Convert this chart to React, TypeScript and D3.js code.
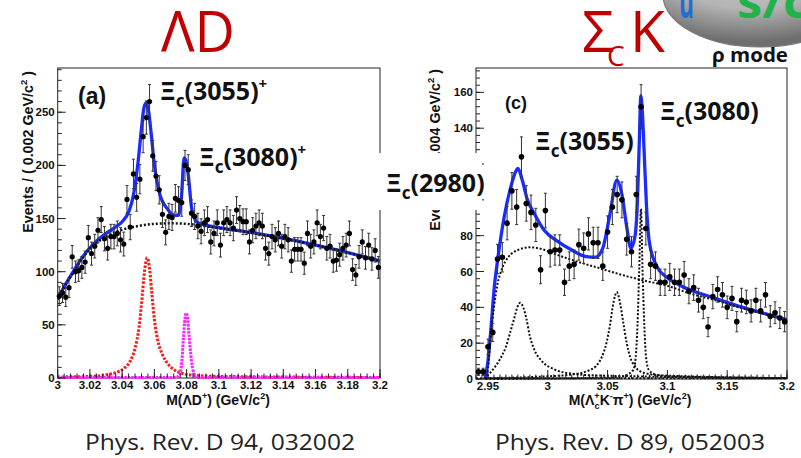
import React from 'react';
import * as d3 from 'd3';

type Pt = [number, number];

// ---------- Left panel (a): M(ΛD+) ----------
const leftBinLo = 3.0;
const leftBinW = 0.002;
const leftCounts = [
  77, 80, 76, 85, 114, 100, 101, 104, 109, 132, 117, 124, 139, 149,
  131, 122, 133, 133, 136, 130, 126, 168, 142,
  192, 170, 187, 227, 245, 260, 209, 190, 177,
  154, 137, 152, 151, 169, 167, 165, 200, 196,
  155, 152, 143,
  138, 146, 149, 128, 136, 146, 125, 146, 149, 146, 141, 158, 150, 147, 147,
  128, 139, 143, 146, 143, 122, 117, 133, 130, 136, 124, 133, 130, 110, 121,
  121, 121, 108, 136, 124, 128, 146, 133, 141, 122, 124, 110, 111, 116, 122,
  125, 136, 102, 97, 114, 128, 113, 125, 112, 120, 104,
];
const leftTotal: Pt[] = [
  [3.0, 74.5], [3.005, 88.5], [3.01, 101], [3.015, 113], [3.02, 122.5], [3.025, 130],
  [3.03, 136], [3.035, 141], [3.04, 147], [3.044, 156], [3.047, 172], [3.05, 205],
  [3.052, 235], [3.0535, 254], [3.055, 259], [3.0565, 250], [3.058, 230], [3.06, 200],
  [3.0635, 172], [3.0676, 160], [3.0718, 153.5], [3.0749, 153], [3.0769, 172],
  [3.0784, 207], [3.0795, 205], [3.0811, 190], [3.0831, 160], [3.0862, 147],
  [3.09, 144.5], [3.1, 141.5], [3.12, 137], [3.14, 131.5], [3.16, 125], [3.18, 118], [3.2, 110],
];
const leftBkg: Pt[] = [
  [3.0, 74], [3.005, 88], [3.01, 100], [3.015, 112], [3.02, 121], [3.025, 128], [3.03, 133],
  [3.035, 137], [3.04, 139.5], [3.05, 143], [3.06, 145], [3.07, 145.5], [3.08, 145],
  [3.09, 143], [3.1, 141], [3.12, 136.5], [3.14, 131], [3.16, 125], [3.18, 118], [3.2, 110],
];
const left3055: Pt[] = [
  [3.0, 1], [3.02, 1.5], [3.03, 3], [3.036, 5], [3.041, 9], [3.045, 16], [3.048, 28],
  [3.0505, 48], [3.0525, 78], [3.054, 102], [3.0555, 113], [3.057, 103], [3.0585, 78],
  [3.06, 55], [3.062, 36], [3.065, 22], [3.068, 14], [3.072, 8], [3.077, 4.5], [3.085, 2.5],
  [3.1, 1.5], [3.2, 0.5],
];
const left3080: Pt[] = [
  [3.0, 0.5], [3.073, 0.5], [3.0755, 3], [3.077, 15], [3.078, 37], [3.079, 56], [3.0797, 61],
  [3.0805, 57], [3.0815, 40], [3.083, 16], [3.0845, 4], [3.086, 0.5], [3.2, 0.5],
];
const leftXTicks = [3, 3.02, 3.04, 3.06, 3.08, 3.1, 3.12, 3.14, 3.16, 3.18, 3.2];
const leftXLabels = ['3', '3.02', '3.04', '3.06', '3.08', '3.1', '3.12', '3.14', '3.16', '3.18', '3.2'];
const leftYTicks = [0, 50, 100, 150, 200, 250];

// ---------- Right panel (c): M(Λc+ K- π+) ----------
const rightBinLo = 2.94;
const rightBinW = 0.004;
const rightCounts = [
  4, 4, 18, 26, 67, 68, 87, 105, 96, 124, 98, 93, 86, 61, 94, 71, 72, 72, 54, 63,
  64, 75, 73, 81, 76, 76, 63, 82, 96, 103, 100, 78, 71, 103, 152, 84, 64, 63, 54, 54,
  57, 54, 54, 58, 49, 51, 44, 40, 29, 46, 50, 47, 40, 45, 32, 44, 43, 38, 44, 38,
  47, 35, 37, 34, 32,
];
const rightTotal: Pt[] = [
  [2.9475, 0], [2.95, 10], [2.9526, 29], [2.9554, 52], [2.958, 66], [2.9637, 91],
  [2.969, 107], [2.9733, 116], [2.975, 117.5], [2.9787, 111], [2.983, 100], [2.989, 92],
  [2.997, 83], [3.008, 77], [3.02, 72], [3.031, 68.5], [3.04, 68], [3.046, 73], [3.052, 92],
  [3.0577, 111], [3.062, 103], [3.066, 85], [3.0695, 73], [3.073, 80], [3.075, 100],
  [3.0765, 132], [3.0778, 158], [3.079, 150], [3.0805, 128], [3.0825, 97], [3.085, 76],
  [3.091, 63], [3.099, 57], [3.11, 52.5], [3.14, 45], [3.16, 40.5], [3.18, 36.8], [3.2, 33],
];
const rightBkg: Pt[] = [
  [2.9475, 0], [2.95, 6], [2.952, 22], [2.955, 40], [2.958, 53], [2.962, 62], [2.967, 68],
  [2.975, 72], [2.985, 73.5], [2.995, 72.5], [3.005, 70], [3.02, 66.5], [3.04, 62.5],
  [3.06, 58.5], [3.08, 55], [3.1, 52], [3.12, 47.5], [3.14, 44], [3.16, 40], [3.18, 36.5], [3.2, 33],
];
const right2980: Pt[] = [
  [2.9475, 0], [2.95, 2], [2.955, 6], [2.96, 11], [2.965, 18], [2.969, 27], [2.972, 34],
  [2.9745, 40], [2.977, 42.5], [2.9795, 40], [2.982, 34], [2.985, 24], [2.989, 16],
  [2.995, 10], [3.005, 5.5], [3.02, 3], [3.04, 2], [3.2, 0.5],
];
const right3055: Pt[] = [
  [2.948, 0.5], [3.0, 1.5], [3.02, 2.5], [3.035, 5], [3.04, 7], [3.045, 12], [3.049, 20],
  [3.052, 30], [3.055, 43], [3.0577, 48.5], [3.06, 44], [3.063, 32], [3.066, 20], [3.069, 12],
  [3.073, 7], [3.08, 3.5], [3.095, 2], [3.2, 0.5],
];
const right3080: Pt[] = [
  [2.948, 0], [3.06, 1], [3.0715, 5], [3.0735, 12], [3.075, 30], [3.0765, 62], [3.0779, 95],
  [3.0792, 62], [3.0807, 30], [3.0822, 12], [3.0845, 5], [3.09, 2.5], [3.1, 1.5], [3.2, 0.5],
];
const rightXTicks = [2.95, 3.0, 3.05, 3.1, 3.15, 3.2];
const rightXLabels = ['2.95', '3', '3.05', '3.1', '3.15', '3.2'];
const rightYTicks = [0, 20, 40, 60, 80, 100, 120, 140, 160];

const ROOTFONT = '"Liberation Sans", Arial, Helvetica, sans-serif';

type Curve = { pts: Pt[]; color: string; width: number; dash?: string };

type PanelProps = {
  id: string;
  px: [number, number];
  py: [number, number];
  xd: [number, number];
  yd: [number, number];
  counts: number[];
  binLo: number;
  binW: number;
  curves: Curve[];
  xTicks: number[];
  xLabels: string[];
  xMinor: number;
  yTicks: number[];
  yMinor: number;
  dotR: number;
};

function Panel(p: PanelProps) {
  const x = d3.scaleLinear().domain(p.xd).range(p.px);
  const y = d3.scaleLinear().domain(p.yd).range(p.py);
  const line = d3
    .line<Pt>()
    .x((d) => x(d[0]))
    .y((d) => y(d[1]))
    .curve(d3.curveMonotoneX);
  const xMinorTicks = d3.range(p.xd[0], p.xd[1] + 1e-9, p.xMinor);
  const yMinorTicks = d3.range(p.yd[0], p.yd[1] + 1e-9, p.yMinor);
  const [L, R] = p.px;
  const [B, T] = p.py;
  return (
    <g>
      <defs>
        <clipPath id={p.id}>
          <rect x={L} y={T} width={R - L} height={B - T + 1} />
        </clipPath>
      </defs>
      <rect x={L} y={T} width={R - L} height={B - T} fill="white" stroke="#222" strokeWidth={1} />
      <g clipPath={`url(#${p.id})`}>
        {p.curves.map((c, i) => (
          <path
            key={i}
            d={line(c.pts) || ''}
            fill="none"
            stroke={c.color}
            strokeWidth={c.width}
            strokeDasharray={c.dash}
          />
        ))}
      </g>
      <g>
        {p.counts.map((n, i) => {
          const xc = p.binLo + p.binW * (i + 0.5);
          const e = Math.sqrt(n);
          const cx = x(xc);
          return (
            <g key={i}>
              <line x1={cx} x2={cx} y1={y(Math.min(n + e, p.yd[1]))} y2={y(Math.max(n - e, 0))} stroke="#333" strokeWidth={1} />
              <line x1={cx - 1.5} x2={cx + 1.5} y1={y(n + e)} y2={y(n + e)} stroke="#333" strokeWidth={1} />
              <line x1={cx - 1.5} x2={cx + 1.5} y1={y(Math.max(n - e, 0))} y2={y(Math.max(n - e, 0))} stroke="#333" strokeWidth={1} />
              <circle cx={cx} cy={y(n)} r={p.dotR} fill="#000" />
            </g>
          );
        })}
      </g>
      {xMinorTicks.map((t, i) => (
        <line key={'xm' + i} x1={x(t)} x2={x(t)} y1={B} y2={B - 4.5} stroke="#222" strokeWidth={1} />
      ))}
      {p.xTicks.map((t, i) => (
        <g key={'xt' + i}>
          <line x1={x(t)} x2={x(t)} y1={B} y2={B - 9} stroke="#222" strokeWidth={1} />
          <text
            x={x(t)}
            y={B + 11}
            textAnchor="middle"
            fontFamily={ROOTFONT}
            fontWeight={700}
            fontSize={11.5}
            fill="#111"
          >
            {p.xLabels[i]}
          </text>
        </g>
      ))}
      {yMinorTicks.map((t, i) => (
        <line key={'ym' + i} x1={L} x2={L + 4} y1={y(t)} y2={y(t)} stroke="#222" strokeWidth={1} />
      ))}
      {p.yTicks.map((t, i) => (
        <g key={'yt' + i}>
          <line x1={L} x2={L + 8} y1={y(t)} y2={y(t)} stroke="#222" strokeWidth={1} />
          <text
            x={L - 3}
            y={y(t) + 4}
            textAnchor="end"
            fontFamily={ROOTFONT}
            fontWeight={700}
            fontSize={11.5}
            fill="#111"
          >
            {t}
          </text>
        </g>
      ))}
    </g>
  );
}

function XiLabel(props: { x: number; y: number; mass: string; sup?: string }) {
  return (
    <text x={props.x} y={props.y} fontFamily='"Noto Sans", "Open Sans", sans-serif' fontWeight={700} fontSize={25} fill="#111">
      Ξ
      <tspan fontSize={17} dy={7}>c</tspan>
      <tspan dy={-7}>({props.mass})</tspan>
      {props.sup ? (
        <tspan fontSize={15} dy={-11}>{props.sup}</tspan>
      ) : null}
    </text>
  );
}

export default function App() {
  return (
    <svg
      width={801}
      height={458}
      viewBox="0 0 801 458"
      style={{ position: 'absolute', left: 0, top: 0, background: 'white' }}
    >
      <defs>
        <radialGradient id="logoGrad" cx="45%" cy="15%" r="80%">
          <stop offset="0%" stopColor="#d4d4d4" />
          <stop offset="60%" stopColor="#b4b4b4" />
          <stop offset="100%" stopColor="#6e6e6e" />
        </radialGradient>
      </defs>
      <rect x={0} y={0} width={801} height={458} fill="white" />

      {/* Left panel */}
      <Panel
        id="clipL"
        px={[57.7, 380]}
        py={[378, 68]}
        xd={[3.0, 3.2]}
        yd={[0, 291.6]}
        counts={leftCounts}
        binLo={leftBinLo}
        binW={leftBinW}
        curves={[
          { pts: leftTotal, color: '#1a2cff', width: 3.3 },
          { pts: leftBkg, color: '#111', width: 2.5, dash: '2,2' },
          { pts: left3055, color: '#ff1a1a', width: 3, dash: '2.5,1.5' },
          { pts: left3080, color: '#ff22ff', width: 3, dash: '2.5,1' },
        ]}
        xTicks={leftXTicks}
        xLabels={leftXLabels}
        xMinor={0.004}
        yTicks={leftYTicks}
        yMinor={10}
        dotR={2.6}
      />
      <text
        transform="translate(33,71) rotate(-90)"
        textAnchor="end"
        fontFamily={ROOTFONT}
        fontWeight={700}
        fontSize={14.3}
        fill="#111"
      >
        Events / ( 0.002 GeV/c<tspan fontSize={9.5} dy={-6}>2</tspan>
        <tspan dy={6}> )</tspan>
      </text>
      <text x={218} y={405} textAnchor="middle" fontFamily={ROOTFONT} fontWeight={700} fontSize={14} fill="#111">
        M(ΛD<tspan fontSize={9} dy={-6}>+</tspan>
        <tspan dy={6}>) (GeV/c</tspan>
        <tspan fontSize={9} dy={-6}>2</tspan>
        <tspan dy={6}>)</tspan>
      </text>
      <text x={78} y={104} fontFamily={ROOTFONT} fontWeight={700} fontSize={23} fill="#111">(a)</text>
      <XiLabel x={160} y={100} mass="3055" sup="+" />
      <XiLabel x={199} y={166} mass="3080" sup="+" />

      {/* Right panel */}
      <Panel
        id="clipR"
        px={[476, 787]}
        py={[379, 68]}
        xd={[2.94, 3.2]}
        yd={[0, 173.6]}
        counts={rightCounts}
        binLo={rightBinLo}
        binW={rightBinW}
        curves={[
          { pts: rightTotal, color: '#1a2cff', width: 3.3 },
          { pts: rightBkg, color: '#111', width: 2, dash: '2,1.8' },
          { pts: right2980, color: '#111', width: 2, dash: '2,1.8' },
          { pts: right3055, color: '#111', width: 2, dash: '2,1.8' },
          { pts: right3080, color: '#111', width: 2, dash: '2,1.8' },
          { pts: [[2.94, 0.4], [3.2, 0.4]], color: '#111', width: 2, dash: '2,1.8' },
        ]}
        xTicks={rightXTicks}
        xLabels={rightXLabels}
        xMinor={0.005}
        yTicks={rightYTicks}
        yMinor={4}
        dotR={2.8}
      />
      <text
        transform="translate(440,69) rotate(-90)"
        textAnchor="end"
        fontFamily={ROOTFONT}
        fontWeight={700}
        fontSize={14.3}
        fill="#111"
      >
        Events / ( 0.004 GeV/c<tspan fontSize={9.5} dy={-6}>2</tspan>
        <tspan dy={6}> )</tspan>
      </text>
      <text x={630} y={405} textAnchor="middle" fontFamily={ROOTFONT} fontWeight={700} fontSize={14} fill="#111">
        M(Λ<tspan fontSize={9} dy={-6}>+</tspan>
        <tspan fontSize={9} dx={-5} dy={10}>c</tspan>
        <tspan dy={-4}>K</tspan>
        <tspan fontSize={9} dy={-6}>-</tspan>
        <tspan dy={6}>π</tspan>
        <tspan fontSize={9} dy={-6}>+</tspan>
        <tspan dy={6}>) (GeV/c</tspan>
        <tspan fontSize={9} dy={-6}>2</tspan>
        <tspan dy={6}>)</tspan>
      </text>
      <text x={505} y={109} fontFamily={ROOTFONT} fontWeight={700} fontSize={18} fill="#111">(c)</text>
      <XiLabel x={535} y={150} mass="3055" />
      <XiLabel x={660} y={120} mass="3080" />

      {/* Ξc(2980) label box covering frames */}
      <rect x={377} y={153} width={105} height={57} fill="white" />
      <XiLabel x={386} y={192} mass="2980" />

      {/* Titles */}
      <text x={161} y={52} fontFamily='"Open Sans", "Noto Sans", sans-serif' fontSize={57} fill="#c00000" textLength={74} lengthAdjust="spacingAndGlyphs">
        ΛD
      </text>
      <text x={582} y={52} fontFamily='"Open Sans", "Noto Sans", sans-serif' fontSize={57} fill="#c00000">
        Σ
      </text>
      <text x={607} y={66} fontFamily='"Open Sans", "Noto Sans", sans-serif' fontSize={28} fill="#c00000">
        C
      </text>
      <text x={630} y={52} fontFamily='"Open Sans", "Noto Sans", sans-serif' fontSize={57} fill="#c00000">
        K
      </text>

      {/* Logo fragment */}
      <ellipse cx={760} cy={-5} rx={97} ry={52} fill="url(#logoGrad)" stroke="#7a7a7a" strokeWidth={1.2} />
      <text x={679} y={18} fontFamily='"Open Sans", sans-serif' fontWeight={700} fontSize={44} fill="#1f6fd0" textLength={15} lengthAdjust="spacingAndGlyphs">
        u
      </text>
      <text x={737} y={18} fontFamily='"Open Sans", sans-serif' fontWeight={700} fontSize={44} fill="#22b24a" textLength={72} lengthAdjust="spacingAndGlyphs">
        s/c
      </text>
      <text x={712} y={62} fontFamily='"Open Sans", sans-serif' fontWeight={700} fontSize={20} fill="#111" textLength={76} lengthAdjust="spacingAndGlyphs">
        ρ mode
      </text>

      {/* Captions */}
      <text x={85} y={450} fontFamily='"Open Sans", "Noto Sans", sans-serif' fontSize={22} fill="#222" textLength={270} lengthAdjust="spacingAndGlyphs">
        Phys. Rev. D 94, 032002
      </text>
      <text x={495} y={450} fontFamily='"Open Sans", "Noto Sans", sans-serif' fontSize={22} fill="#222" textLength={270} lengthAdjust="spacingAndGlyphs">
        Phys. Rev. D 89, 052003
      </text>
    </svg>
  );
}
